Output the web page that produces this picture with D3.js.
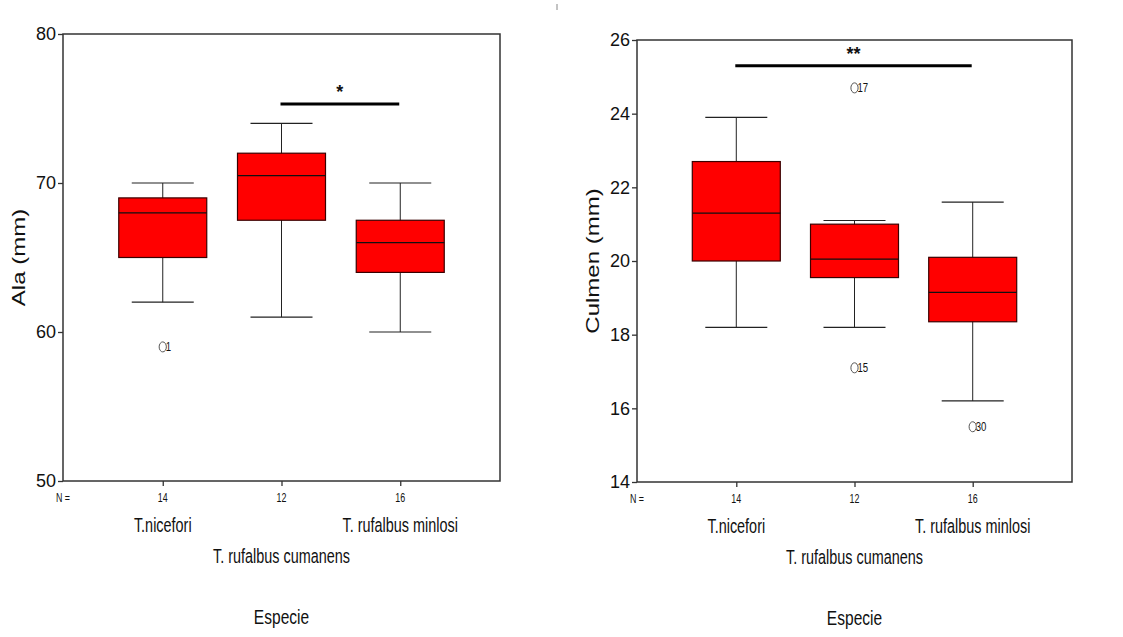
<!DOCTYPE html>
<html>
<head>
<meta charset="utf-8">
<script src="https://cdn.jsdelivr.net/npm/d3@7"></script>
<style>
    body { margin: 0; background: #fff; }
    svg text { font-family: "Liberation Sans", Arial, sans-serif; fill: #111; }
</style>
</head>
<body>
<div id="chart"></div>
<script>

// ---- data ----
const species = ["T.nicefori", "T. rufalbus cumanens", "T. rufalbus minlosi"];
const nCounts = [14, 12, 16];

// Ala (mm)
const alaTicks = [50, 60, 70, 80];
const alaMin    = [62, 61, 60];
const alaQ1     = [65, 67.5, 64];
const alaMedian = [68, 70.5, 66];
const alaQ3     = [69, 72, 67.5];
const alaMax    = [70, 74, 70];
const alaOutliers = [{group: 0, value: 59, id: "1"}];
const alaSignif = {from: 1, to: 2, value: 75.3, label: "*"};

// Culmen (mm)
const culmenTicks = [14, 16, 18, 20, 22, 24, 26];
const culmenMin    = [18.2, 18.2, 16.2];
const culmenQ1     = [20.0, 19.55, 18.35];
const culmenMedian = [21.3, 20.05, 19.15];
const culmenQ3     = [22.7, 21.0, 20.1];
const culmenMax    = [23.9, 21.1, 21.6];
const culmenOutliers = [
    {group: 1, value: 24.7, id: "17"},
    {group: 1, value: 17.1, id: "15"},
    {group: 2, value: 15.5, id: "30"}
];
const culmenSignif = {from: 0, to: 2, value: 25.3, label: "**"};

const squish = 0.74;   // the original picture is horizontally compressed

let svg = d3.select("#chart").append("svg")
    .attr("width", 1123)
    .attr("height", 637);

// small stray mark at the top of the original
svg.append("line")
    .attr("x1", 557).attr("x2", 557)
    .attr("y1", 4).attr("y2", 10)
    .attr("stroke", "#888").attr("stroke-width", 1);

class BoxPanel {

    constructor(_svg, _frame, _title, _ticks, _stats, _outliers, _signif) {
        this.root = _svg;
        this.frame = _frame;
        this.title = _title;
        this.ticks = _ticks;
        this.stats = _stats;
        this.outliers = _outliers;
        this.signif = _signif;
        this.initVis();
    }

    initVis() {
        let vis = this;
        let f = vis.frame;

        vis.width = f.x1 - f.x0;
        vis.height = f.y1 - f.y0;
        vis.boxWidth = 88;
        vis.capWidth = 62;

        vis.svg = vis.root.append("g")
            .attr("transform", "translate(" + f.x0 + "," + f.y0 + ")");

        vis.x = d3.scalePoint()
            .domain(species)
            .range([0, vis.width])
            .padding(0.84);

        vis.y = d3.scaleLinear()
            .domain(d3.extent(vis.ticks))
            .range([vis.height, 0]);

        // frame
        vis.svg.append("rect")
            .attr("width", vis.width)
            .attr("height", vis.height)
            .attr("fill", "none")
            .attr("stroke", "#333")
            .attr("stroke-width", 1.5);

        vis.yAxis = d3.axisLeft(vis.y)
            .tickValues(vis.ticks)
            .tickSize(5)
            .tickSizeOuter(0)
            .tickPadding(2);

        vis.xAxis = d3.axisBottom(vis.x)
            .tickSize(5)
            .tickSizeOuter(0)
            .tickFormat(() => "");

        let yg = vis.svg.append("g").attr("class", "y-axis").call(vis.yAxis);
        yg.select(".domain").remove();
        yg.selectAll("line").attr("stroke", "#333").attr("stroke-width", 1.3);
        yg.selectAll("text")
            .style("font-size", "18px")
            .attr("fill", "#111");

        let xg = vis.svg.append("g")
            .attr("class", "x-axis")
            .attr("transform", "translate(0," + vis.height + ")")
            .call(vis.xAxis);
        xg.select(".domain").remove();
        xg.selectAll("line").attr("stroke", "#333").attr("stroke-width", 1.3);

        // y title
        vis.svg.append("text")
            .attr("transform", "translate(-44," + (vis.height / 2) + ") rotate(-90) scale(1," + squish + ")")
            .attr("text-anchor", "middle")
            .attr("dominant-baseline", "central")
            .style("font-size", "24px")
            .text(vis.title);

        vis.wrangleData();
    }

    wrangleData() {
        let vis = this;
        let s = vis.stats;
        vis.displayData = species.map((d, i) => ({
            key: d,
            n: nCounts[i],
            whiskers: [s.min[i], s.max[i]],
            quartile: [s.q1[i], s.median[i], s.q3[i]]
        }));
        vis.updateVis();
    }

    squishText(x, y, size, str) {
        let vis = this;
        return vis.svg.append("text")
            .attr("transform", "translate(" + x + "," + y + ") scale(" + squish + ",1)")
            .attr("text-anchor", "middle")
            .style("font-size", size + "px")
            .text(str);
    }

    updateVis() {
        let vis = this;
        let g = vis.svg.append("g");

        // whisker stems
        g.selectAll(".stem")
            .data(vis.displayData)
            .enter()
            .append("line")
            .attr("class", "stem")
            .attr("x1", d => vis.x(d.key))
            .attr("x2", d => vis.x(d.key))
            .attr("y1", d => vis.y(d.whiskers[0]))
            .attr("y2", d => vis.y(d.whiskers[1]))
            .attr("stroke", "#222")
            .attr("stroke-width", 1);

        // whisker caps
        [0, 1].forEach(k => {
            g.selectAll(".cap" + k)
                .data(vis.displayData)
                .enter()
                .append("line")
                .attr("class", "cap" + k)
                .attr("x1", d => vis.x(d.key) - vis.capWidth / 2)
                .attr("x2", d => vis.x(d.key) + vis.capWidth / 2)
                .attr("y1", d => vis.y(d.whiskers[k]))
                .attr("y2", d => vis.y(d.whiskers[k]))
                .attr("stroke", "#222")
                .attr("stroke-width", 1.2);
        });

        // boxes
        g.selectAll(".box")
            .data(vis.displayData)
            .enter()
            .append("rect")
            .attr("class", "box")
            .attr("x", d => vis.x(d.key) - vis.boxWidth / 2)
            .attr("y", d => vis.y(d.quartile[2]))
            .attr("width", vis.boxWidth)
            .attr("height", d => vis.y(d.quartile[0]) - vis.y(d.quartile[2]))
            .attr("fill", "#ff0000")
            .attr("stroke", "#3a0000")
            .attr("stroke-width", 1.2);

        // medians
        g.selectAll(".median")
            .data(vis.displayData)
            .enter()
            .append("line")
            .attr("class", "median")
            .attr("x1", d => vis.x(d.key) - vis.boxWidth / 2)
            .attr("x2", d => vis.x(d.key) + vis.boxWidth / 2)
            .attr("y1", d => vis.y(d.quartile[1]))
            .attr("y2", d => vis.y(d.quartile[1]))
            .attr("stroke", "#111")
            .attr("stroke-width", 1.2);

        // outliers
        let out = g.selectAll(".outlier")
            .data(vis.outliers)
            .enter()
            .append("g")
            .attr("class", "outlier")
            .attr("transform", d => "translate(" + vis.x(species[d.group]) + "," + vis.y(d.value) + ")");
        out.append("ellipse")
            .attr("rx", 3.6)
            .attr("ry", 5)
            .attr("fill", "none")
            .attr("stroke", "#555")
            .attr("stroke-width", 1);
        out.append("text")
            .attr("transform", "translate(3,4.5) scale(" + squish + ",1)")
            .style("font-size", "13px")
            .attr("fill", "#444")
            .text(d => d.id);

        // significance bar
        let sg = vis.signif;
        let xa = vis.x(species[sg.from]) - 1;
        let xb = vis.x(species[sg.to]) - 1;
        g.append("line")
            .attr("x1", xa).attr("x2", xb)
            .attr("y1", vis.y(sg.value)).attr("y2", vis.y(sg.value))
            .attr("stroke", "#000")
            .attr("stroke-width", 3);
        g.append("text")
            .attr("x", (xa + xb) / 2)
            .attr("y", vis.y(sg.value) - 6)
            .attr("text-anchor", "middle")
            .style("font-size", "18px")
            .style("font-weight", "bold")
            .text(sg.label);

        // N counts
        vis.squishText(0, vis.height + 21, 12, "N =").attr("fill", "#333");
        vis.displayData.forEach(d => {
            vis.squishText(vis.x(d.key), vis.height + 21, 12, d.n).attr("fill", "#333");
        });

        // staggered species labels
        vis.displayData.forEach((d, i) => {
            let row = i % 2 === 0 ? 51 : 82;
            vis.squishText(vis.x(d.key), vis.height + row, 19.5, d.key);
        });

        // x title
        vis.squishText(vis.x(species[1]), vis.height + 143, 21, "Especie");
    }
}

new BoxPanel(svg, {x0: 63, x1: 500, y0: 34, y1: 481}, "Ala (mm)", alaTicks,
    {min: alaMin, q1: alaQ1, median: alaMedian, q3: alaQ3, max: alaMax},
    alaOutliers, alaSignif);

new BoxPanel(svg, {x0: 637, x1: 1072, y0: 40, y1: 482}, "Culmen (mm)", culmenTicks,
    {min: culmenMin, q1: culmenQ1, median: culmenMedian, q3: culmenQ3, max: culmenMax},
    culmenOutliers, culmenSignif);

</script>
</body>
</html>
